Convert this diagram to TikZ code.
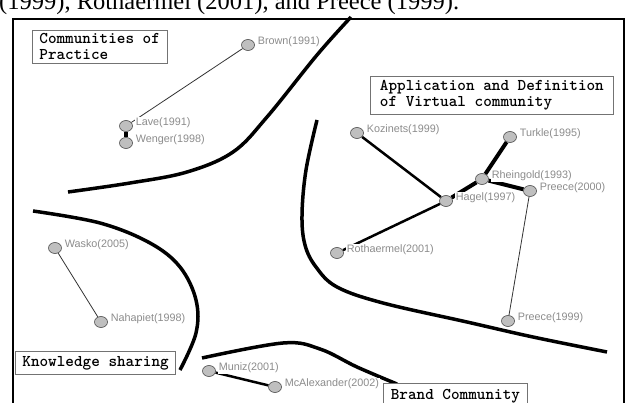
\documentclass[tikz,border=0pt]{standalone}
\usepackage{fontspec}
\setmainfont{Liberation Serif}
\newfontfamily\labfont{Liberation Sans}
\usetikzlibrary{shapes.geometric}
\pgfdeclarelayer{paper}
\pgfdeclarelayer{edges}
\pgfsetlayers{paper,edges,main}
\begin{document}
\begin{tikzpicture}[x=1pt,y=-1pt,
  pt/.style={ellipse,minimum width=13pt,minimum height=11pt,inner sep=0pt,draw=black!70,fill=black!25,line width=0.6pt},
  lab/.style={text=black!45,fill=white,font=\labfont\fontsize{10.8}{12}\selectfont,inner sep=0.8pt,label distance=2pt,yshift=3pt},
  thinedge/.style={line width=0.8pt,draw=black!80},
  midedge/.style={line width=2.5pt},
  thickedge/.style={line width=4pt},
  curve/.style={line width=3.5pt},
  tbox/.style={draw=black!55,fill=white,line width=0.8pt,align=left,anchor=north west,inner xsep=7pt,inner ysep=0.5pt,font=\ttfamily\bfseries\fontsize{16.4}{16}\selectfont}
]
\useasboundingbox (0,0) rectangle (626,403);
\begin{pgfonlayer}{paper}
\fill[white] (0,0) rectangle (626,403);
\end{pgfonlayer}
% clipped caption text at top
\node[anchor=base west,inner sep=0pt,font=\fontsize{24.5}{28}\selectfont] (cap) at (-1,10) {(1999), Rothaermel (2001), and Preece (1999).};
% frame
\draw[line width=2pt] (13,410) -- (13,19) -- (624,19) -- (624,410);
% separating curves
\draw[curve] plot[smooth,tension=0.6] coordinates {(351,17) (317,55) (267,117) (233,152) (187,172) (130,183) (68,192)};
\draw[curve] plot[smooth,tension=0.6] coordinates {(317,120) (306,170) (302,215) (305,245) (316,267) (337,287) (383,303) (467,322) (533,337) (607,352)};
\draw[curve] plot[smooth,tension=0.6] coordinates {(33,211) (100,223) (150,243) (180,267) (196,300) (196,333) (180,370)};
\draw[curve] plot[smooth,tension=0.6] coordinates {(202,358) (283,343) (320,349) (357,367) (397,384)};
% label boxes
\node[tbox,minimum width=134pt,minimum height=33pt] (cop) at (32,30) {Communities of\\Practice};
\node[tbox,minimum width=243pt,minimum height=38pt] (avc) at (370,76) {Application and Definition\\of Virtual community};
\node[tbox,minimum width=157pt,minimum height=23pt] (ks) at (15,351) {Knowledge sharing};
\node[tbox,minimum width=144pt,minimum height=26pt] (bc) at (383,383) {Brand Community};
% nodes
\node[pt,label={[lab]0:Brown(1991)}] (brown) at (248,45) {};
\node[pt,label={[lab]0:Lave(1991)}] (lave) at (126,126) {};
\node[pt,label={[lab]0:Wenger(1998)}] (wenger) at (126,143) {};
\node[pt,label={[lab]0:Kozinets(1999)}] (koz) at (357,133) {};
\node[pt,label={[lab]0:Turkle(1995)}] (turkle) at (510,137) {};
\node[pt,label={[lab]0:Rheingold(1993)}] (rhein) at (482,179) {};
\node[pt,label={[lab]0:Preece(2000)}] (pre2000) at (530,191) {};
\node[pt,label={[lab]0:Hagel(1997)}] (hagel) at (446,201) {};
\node[pt,label={[lab]0:Rothaermel(2001)}] (roth) at (337,253) {};
\node[pt,label={[lab]0:Preece(1999)}] (pre1999) at (508,321) {};
\node[pt,label={[lab]0:Wasko(2005)}] (wasko) at (55,248) {};
\node[pt,label={[lab]0:Nahapiet(1998)}] (nahap) at (101,322) {};
\node[pt,label={[lab]0:Muniz(2001)}] (muniz) at (209,371) {};
\node[pt,label={[lab]0:McAlexander(2002)}] (mcal) at (275,387) {};
% edges (under the nodes and their labels)
\begin{pgfonlayer}{edges}
\draw[thinedge] (brown) -- (lave);
\draw[thickedge] (lave) -- (wenger);
\draw[midedge] (koz) -- (hagel);
\draw[midedge] (roth) -- (hagel);
\draw[thickedge] (hagel) -- (rhein);
\draw[thickedge] (rhein) -- (turkle);
\draw[thickedge] (rhein) -- (pre2000);
\draw[thinedge] (pre2000) -- (pre1999);
\draw[thinedge] (wasko) -- (nahap);
\draw[midedge] (muniz) -- (mcal);
\end{pgfonlayer}
\end{tikzpicture}
\end{document}
